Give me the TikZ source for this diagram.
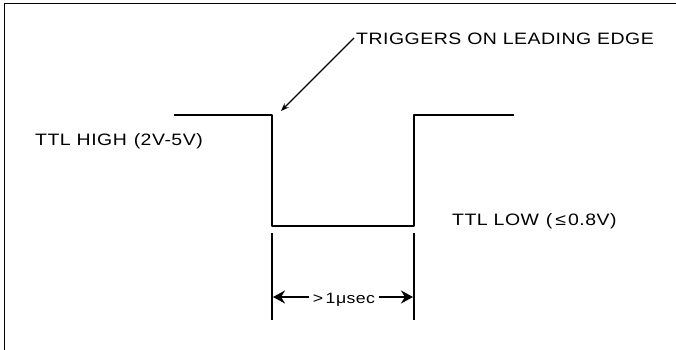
\documentclass[tikz,border=0pt]{standalone}
\usepackage{fontspec}
\setmainfont{Liberation Sans}[FakeStretch=1.18,LetterSpace=3]
\usetikzlibrary{arrows.meta}
\begin{document}
\begin{tikzpicture}[x=1pt,y=-1pt,
  wave/.style={line width=2.2pt,line join=round},
  thin/.style={line width=1.2pt},
  lbl/.style={font=\fontsize{16.5}{18}\selectfont,inner sep=0pt},
  dimarrow/.style={line width=2pt,-{Stealth[length=12pt,width=13pt]}}]
\useasboundingbox (0,0) rectangle (676,350);
\draw[line width=1pt] (4,350) -- (4,4) -- (676,4);
% waveform
\coordinate (h0) at (174,115);
\coordinate (f0) at (272,115);
\coordinate (f1) at (272,226);
\coordinate (r1) at (414,226);
\coordinate (r0) at (414,115);
\coordinate (h1) at (514,115);
\draw[wave] (h0) -- (f0) -- (f1) -- (r1) -- (r0) -- (h1);
% labels
\node[lbl,anchor=base west] (trig) at (356,45) {TRIGGERS ON LEADING EDGE};
\coordinate (tip) at (281,111);
\coordinate (tail) at (354,38);
\draw[thin,-{Stealth[length=8pt,width=6pt]}] (tail) -- (tip);
\node[lbl,anchor=base west] (high) at (35,145) {TTL HIGH\hspace{1pt} (2V-5V)};
\node[lbl,anchor=base west] (low) at (452,225) {TTL LOW\hspace{1pt} (\hspace{3pt}≤\hspace{2pt}0.8V)};
% dimension
\coordinate (d0) at (272,233);
\coordinate (d1) at (272,320);
\coordinate (e0) at (414,233);
\coordinate (e1) at (414,320);
\draw[thin] (d0) -- (d1);
\draw[thin] (e0) -- (e1);
\node[lbl,anchor=base,font=\fontsize{15}{17}\selectfont] (dim) at (344,303) {>\,1μsec};
\coordinate (al) at (273,297);
\coordinate (ar) at (413,297);
\draw[dimarrow] (dim.west |- al) ++(-4,0) -- (al);
\draw[dimarrow] (dim.east |- ar) ++(4,0) -- (ar);
\end{tikzpicture}
\end{document}
